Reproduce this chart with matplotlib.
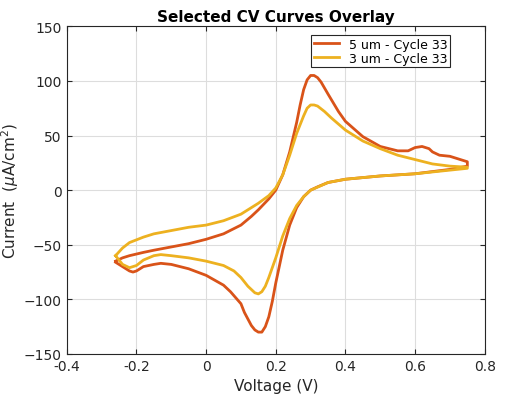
import matplotlib
matplotlib.use("Agg")
import matplotlib.pyplot as plt
import numpy as np

labels = ["5 um - Cycle 33", "3 um - Cycle 33"]
colors = ["#D95319", "#EDB120"]

v5_fwd = [-0.26,-0.24,-0.22,-0.18,-0.15,-0.1,-0.05,0,0.05,0.1,0.13,0.15,0.18,0.2,0.22,0.24,0.26,0.27,0.28,0.29,0.3,0.31,0.32,0.33,0.35,0.38,0.4,0.45,0.5,0.55,0.58,0.6,0.62,0.64,0.65,0.67,0.7,0.75]
i5_fwd = [-65,-62,-60,-57,-55,-52,-49,-45,-40,-32,-24,-18,-8,0,14,35,62,78,92,101,105,105,103,99,88,72,63,49,40,36,36,39,40,38,35,32,31,26]
v5_rev = [0.75,0.7,0.6,0.5,0.4,0.35,0.32,0.3,0.28,0.26,0.24,0.22,0.2,0.19,0.18,0.17,0.16,0.15,0.14,0.13,0.11,0.1,0.07,0.05,0,-0.05,-0.1,-0.13,-0.15,-0.18,-0.2,-0.21,-0.22,-0.24,-0.26]
i5_rev = [22,19,15,13,10,7,3,0,-6,-16,-32,-55,-85,-102,-116,-125,-130,-130,-128,-124,-112,-104,-93,-87,-78,-72,-68,-67,-68,-70,-74,-75,-74,-70,-66]

v3_fwd = [-0.26,-0.24,-0.22,-0.18,-0.15,-0.1,-0.05,0,0.05,0.1,0.15,0.18,0.2,0.22,0.24,0.26,0.28,0.29,0.3,0.31,0.32,0.34,0.36,0.4,0.45,0.5,0.55,0.6,0.65,0.7,0.75]
i3_fwd = [-60,-53,-48,-43,-40,-37,-34,-32,-28,-22,-12,-5,2,14,32,52,68,75,78,78,77,72,66,55,45,38,32,28,24,22,21]
v3_rev = [0.75,0.6,0.5,0.4,0.35,0.3,0.28,0.26,0.24,0.22,0.2,0.18,0.17,0.16,0.15,0.14,0.12,0.1,0.08,0.05,0,-0.05,-0.1,-0.13,-0.15,-0.18,-0.2,-0.22,-0.24,-0.26]
i3_rev = [20,15,13,10,7,0,-6,-14,-26,-42,-62,-80,-88,-93,-95,-94,-88,-80,-74,-69,-65,-62,-60,-59,-60,-64,-69,-71,-68,-60]

fig = plt.figure(figsize=(5.06, 4.02), dpi=100)
ax = fig.add_axes([0.132, 0.117, 0.826, 0.815])

for vf, if_, vr, ir, c, lab in [(v5_fwd, i5_fwd, v5_rev, i5_rev, colors[0], labels[0]),
                                (v3_fwd, i3_fwd, v3_rev, i3_rev, colors[1], labels[1])]:
    ax.plot(vf + vr, if_ + ir, color=c, lw=2, label=lab, solid_joinstyle="round")

ax.set_xlim(-0.4, 0.8)
ax.set_ylim(-150, 150)
ax.set_xticks(np.arange(-0.4, 0.81, 0.2))
ax.set_xticklabels(["-0.4", "-0.2", "0", "0.2", "0.4", "0.6", "0.8"])
ax.set_yticks(np.arange(-150, 151, 50))
ax.grid(True, color="#dddddd", lw=0.8)
ax.tick_params(direction="in", labelsize=10, colors="#262626", top=True, right=True)
for s in ax.spines.values():
    s.set_color("#262626")
    s.set_linewidth(0.8)
ax.set_xlabel("Voltage (V)", fontsize=11, color="#262626")
ax.set_ylabel(r"Current  ($\mu$A/cm$^2$)", fontsize=11, color="#262626", labelpad=2)
ax.set_title("Selected CV Curves Overlay", fontsize=11, fontweight="bold", pad=4)
leg = ax.legend(loc="upper right", bbox_to_anchor=(0.925, 0.985), fontsize=9, fancybox=False,
                framealpha=1, edgecolor="#262626", handlelength=2, borderpad=0.2,
                labelspacing=0.1, borderaxespad=0.3)
leg.get_frame().set_linewidth(0.8)

fig.savefig("out.png", dpi=100)
